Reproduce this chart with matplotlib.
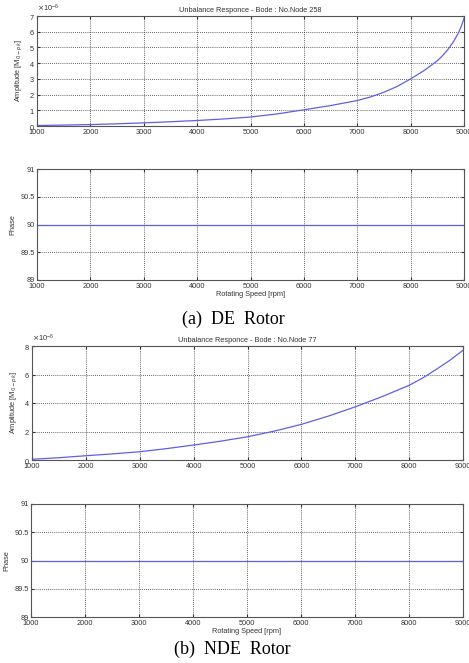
import matplotlib
matplotlib.use("Agg")
import matplotlib.pyplot as plt
from matplotlib.ticker import ScalarFormatter

# Data (amplitudes in units of 1e-6)
rpm_de = [1000, 1500, 2000, 2500, 3000, 3500, 4000, 4500, 5000, 5500, 6000,
          6500, 7000, 7250, 7500, 7750, 8000, 8250, 8500, 8600, 8700, 8800,
          8900, 8950, 9000]
amp_de = [0.03, 0.06, 0.09, 0.14, 0.20, 0.27, 0.35, 0.45, 0.57, 0.77, 1.03,
          1.30, 1.62, 1.85, 2.15, 2.52, 3.00, 3.52, 4.15, 4.48, 4.88, 5.35,
          5.95, 6.35, 6.85]
rpm_nde = [1000, 1500, 2000, 2500, 3000, 3500, 4000, 4500, 5000, 5500, 6000,
           6500, 7000, 7500, 8000, 8250, 8500, 8750, 9000]
amp_nde = [0.05, 0.16, 0.30, 0.43, 0.58, 0.80, 1.05, 1.32, 1.63, 2.03, 2.50,
           3.08, 3.73, 4.45, 5.24, 5.75, 6.35, 6.98, 7.70]
phase_rpm = [1000, 9000]
phase_de = [90, 90]
phase_nde = [90, 90]

xticks = [1000, 2000, 3000, 4000, 5000, 6000, 7000, 8000, 9000]
phase_ticks = [89, 89.5, 90, 90.5, 91]
phase_ticklabels = ["89", "89.5", "90", "90.5", "91"]
titles = ["Unbalance Responce - Bode : No.Node 258",
          "Unbalance Responce - Bode : No.Node 77"]
captions = ["(a)  DE  Rotor", "(b)  NDE  Rotor"]

W, H = 469, 663
fig = plt.figure(figsize=(W / 100, H / 100), dpi=100)
plt.rcParams['font.family'] = ['Liberation Sans', 'DejaVu Sans']


def ax_px(l, r, t, b):
    return fig.add_axes([l / W, 1 - b / H, (r - l) / W, (b - t) / H])


line_col = '#5f5fe6'
fs = 5.3


def style(ax):
    ax.grid(True, linestyle=(0, (1, 1.5)), color='#333333', linewidth=0.6)
    for s in ax.spines.values():
        s.set_color('#555555')
        s.set_linewidth(0.8)
    ax.tick_params(direction='in', length=2, labelsize=fs, colors='#333333',
                   top=True, right=True, pad=1.5)
    ax.tick_params(axis='x', pad=2.2)
    ax.set_xlim(1000, 9000)
    ax.set_xticks(xticks)


def amp_axes(ax, rpm, amp, ymax, yticks, title):
    ax.plot(rpm, [a * 1e-6 for a in amp], color=line_col, lw=0.9)
    style(ax)
    ax.set_ylim(0, ymax * 1e-6)
    ax.set_yticks([t * 1e-6 for t in yticks])
    fmt = ScalarFormatter(useMathText=True)
    fmt.set_powerlimits((0, 0))
    ax.yaxis.set_major_formatter(fmt)
    ax.yaxis.get_offset_text().set_fontsize(fs)
    ax.yaxis.get_offset_text().set_color('#333333')
    ax.set_title(title, fontsize=fs, color='#333333', pad=3)
    ax.set_ylabel(r'Amplitude [M$_{0-pk}$]', fontsize=fs, color='#333333', labelpad=3)


def phase_axes(ax, rpm, ph):
    ax.plot(rpm, ph, color=line_col, lw=0.9)
    style(ax)
    ax.set_ylim(89, 91)
    ax.set_yticks(phase_ticks)
    ax.set_yticklabels(phase_ticklabels)
    ax.set_ylabel('Phase', fontsize=fs, color='#333333', labelpad=3)
    ax.set_xlabel('Rotating Speed [rpm]', fontsize=fs, color='#333333', labelpad=1)


ax1 = ax_px(37, 464, 16, 126)
amp_axes(ax1, rpm_de, amp_de, 7, [0, 1, 2, 3, 4, 5, 6, 7], titles[0])
ax2 = ax_px(37, 464, 169, 280)
phase_axes(ax2, phase_rpm, phase_de)

ax3 = ax_px(32, 463, 346, 460)
amp_axes(ax3, rpm_nde, amp_nde, 8, [0, 2, 4, 6, 8], titles[1])
ax4 = ax_px(31, 463, 504, 617)
phase_axes(ax4, phase_rpm, phase_nde)

fig.text(233 / W, 1 - 319 / H, captions[0], family=['Liberation Serif', 'DejaVu Serif'],
         fontsize=13, ha='center', va='center')
fig.text(232 / W, 1 - 649 / H, captions[1], family=['Liberation Serif', 'DejaVu Serif'],
         fontsize=13, ha='center', va='center')

fig.savefig('out.png', dpi=100)
